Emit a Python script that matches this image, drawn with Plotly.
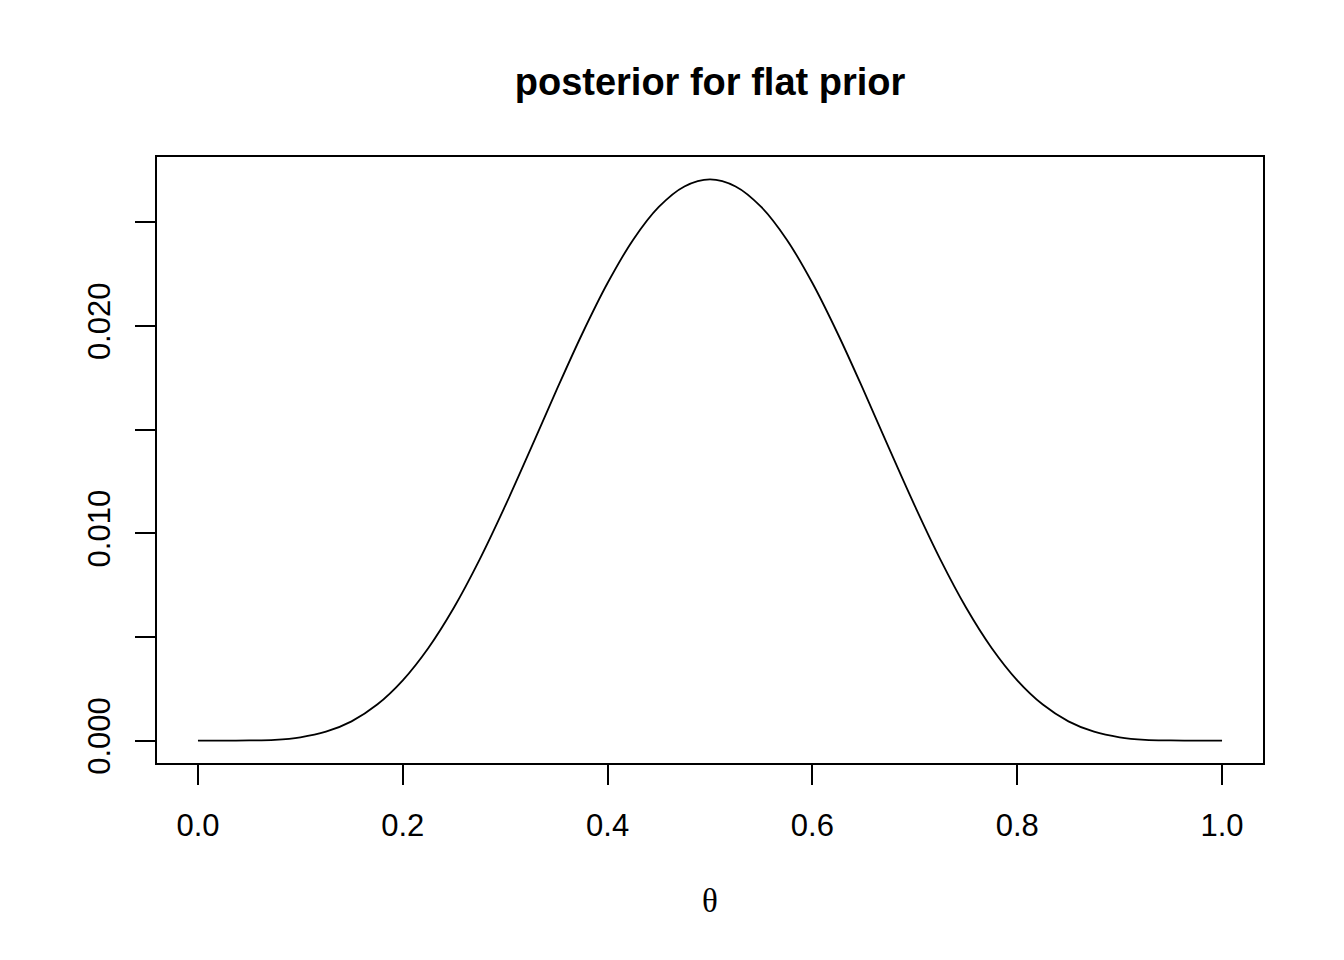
import plotly.graph_objects as go

# posterior values, theta on a 0.025 step
theta = [0.000, 0.025, 0.050, 0.075, 0.100, 0.125, 0.150, 0.175, 0.200, 0.225,
         0.250, 0.275, 0.300, 0.325, 0.350, 0.375, 0.400, 0.425, 0.450, 0.475,
         0.500, 0.525, 0.550, 0.575, 0.600, 0.625, 0.650, 0.675, 0.700, 0.725,
         0.750, 0.775, 0.800, 0.825, 0.850, 0.875, 0.900, 0.925, 0.950, 0.975,
         1.000]
posterior = [0.00000, 0.00000, 0.00001, 0.00004, 0.00016, 0.00043, 0.00093, 0.00174,
             0.00291, 0.00447, 0.00642, 0.00873, 0.01132, 0.01408, 0.01689, 0.01960,
             0.02207, 0.02416, 0.02574, 0.02673, 0.02707, 0.02673, 0.02574, 0.02416,
             0.02207, 0.01960, 0.01689, 0.01408, 0.01132, 0.00873, 0.00642, 0.00447,
             0.00291, 0.00174, 0.00093, 0.00043, 0.00016, 0.00004, 0.00001, 0.00000,
             0.00000]

x_ticks = [0.0, 0.2, 0.4, 0.6, 0.8, 1.0]
x_labels = ["0.0", "0.2", "0.4", "0.6", "0.8", "1.0"]
y_ticks = [0.0, 0.005, 0.010, 0.015, 0.020, 0.025]
y_labels = ["0.000", "", "0.010", "", "0.020", ""]

# the page body adds an 8px margin, so the figure is 8px smaller each way
W, H = 1336, 952

fig = go.Figure()
fig.add_trace(
    go.Scatter(
        x=theta,
        y=posterior,
        mode="lines",
        line=dict(color="black", width=1.8, shape="spline", smoothing=1),
        showlegend=False,
    )
)

axis_style = dict(
    showgrid=False,
    zeroline=False,
    showline=True,
    mirror=True,
    linecolor="black",
    linewidth=2,
    ticks="outside",
    ticklen=20,
    tickwidth=2,
    tickcolor="black",
    tickfont=dict(family="Liberation Sans, Arial", size=31, color="black"),
)

fig.update_xaxes(
    range=[-0.04, 1.04],
    tickvals=x_ticks,
    ticktext=x_labels,
    ticklabelstandoff=14,
    **axis_style,
)
fig.update_yaxes(
    range=[-0.00108, 0.02815],
    tickvals=y_ticks,
    ticktext=y_labels,
    tickangle=-90,
    ticklabelstandoff=13,
    **axis_style,
)

fig.add_annotation(
    text="θ",
    x=0.5,
    xref="paper",
    y=-0.2277,
    yref="paper",
    yanchor="middle",
    showarrow=False,
    font=dict(family="Liberation Serif, Times New Roman", size=33, color="black"),
)

fig.update_layout(
    width=W,
    height=H,
    margin=dict(l=149, r=81, t=149, b=197),
    paper_bgcolor="white",
    plot_bgcolor="white",
    title=dict(
        text="<b>posterior for flat prior</b>",
        x=702 / W,
        xanchor="center",
        y=1 - 74 / H,
        yref="container",
        yanchor="middle",
        font=dict(family="Liberation Sans, Arial", size=38, color="black"),
    ),
)

fig.write_html("out.html")
